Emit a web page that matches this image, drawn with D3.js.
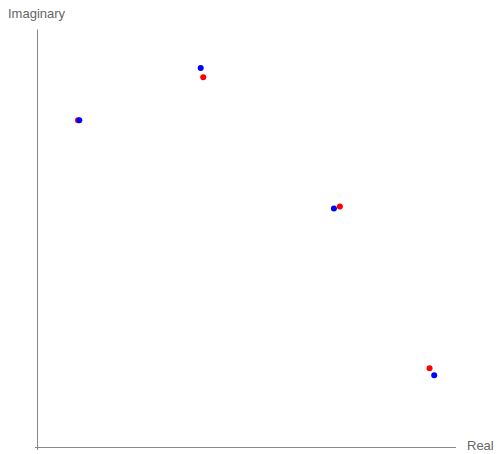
<!DOCTYPE html>
<html>
<head>
<meta charset="utf-8">
<script src="https://cdn.jsdelivr.net/npm/d3@7"></script>
<style>
  html, body { margin: 0; padding: 0; background: #fff; }
  svg { display: block; font-family: "Liberation Sans", Arial, sans-serif; }
</style>
</head>
<body>
<svg id="chart" width="497" height="454"></svg>
<script>
// Roots plotted in the complex plane: two sets (red, blue)
const redReal  = [0.97, 3.93, 7.16, 9.28];
const redImag  = [7.84, 8.87, 5.78, 1.91];
const blueReal = [1.00, 3.87, 7.02, 9.39];
const blueImag = [7.84, 9.09, 5.73, 1.74];

const xLabel = "Real";
const yLabel = "Imaginary";

const svg = d3.select("#chart");
const x = d3.scaleLinear().domain([0, 10]).range([37, 460]);
const y = d3.scaleLinear().domain([0, 10]).range([448, 30]);

// Axis lines without ticks
const axisColor = "#888";
svg.append("g")
  .attr("transform", `translate(0,${y(0) - 0.5})`)
  .call(d3.axisBottom(x).tickValues([]).tickSizeOuter(0))
  .call(g => g.select(".domain").attr("stroke", axisColor)
    .attr("d", `M${x(0) - 2},0H${x(10) - 4}`));
svg.append("g")
  .attr("transform", `translate(${x(0) + 0.5},0)`)
  .call(d3.axisLeft(y).tickValues([]).tickSizeOuter(0))
  .call(g => g.select(".domain").attr("stroke", axisColor)
    .attr("d", `M0,${y(10) - 0.5}V${y(0) + 2}`));

svg.append("text")
  .attr("x", 8).attr("y", 18)
  .attr("font-size", 13).attr("fill", "#666")
  .text(yLabel);
svg.append("text")
  .attr("x", 467).attr("y", 450)
  .attr("font-size", 13).attr("fill", "#666")
  .text(xLabel);

const red = redReal.map((r, i) => ({ re: r, im: redImag[i] }));
const blue = blueReal.map((r, i) => ({ re: r, im: blueImag[i] }));

svg.append("g").selectAll("circle").data(red).join("circle")
  .attr("cx", d => x(d.re)).attr("cy", d => y(d.im))
  .attr("r", 3).attr("fill", "red");
svg.append("g").selectAll("circle").data(blue).join("circle")
  .attr("cx", d => x(d.re)).attr("cy", d => y(d.im))
  .attr("r", 3).attr("fill", "blue");
</script>
</body>
</html>
